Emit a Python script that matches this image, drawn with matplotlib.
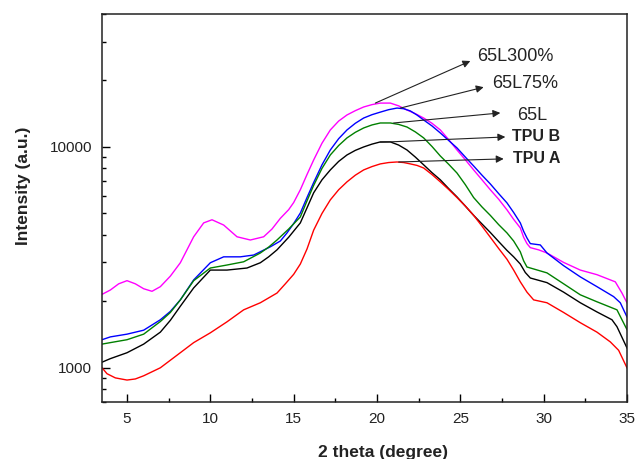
import matplotlib
matplotlib.use("Agg")
import matplotlib.pyplot as plt
from matplotlib.ticker import LogLocator, NullFormatter, FixedLocator, FixedFormatter, MultipleLocator

plt.rcParams['font.family'] = ['Liberation Sans', 'DejaVu Sans']

# ---- data ----
x_65L300 = [3.5, 4.0, 4.5, 5.0, 5.5, 6.0, 6.5, 7.0, 7.6, 8.2, 9.0, 9.6, 10.1, 10.8, 11.6, 12.4, 13.2,
            13.7, 14.2, 14.7, 15.0, 15.4, 15.8, 16.2, 16.7, 17.2, 17.7, 18.2, 18.7, 19.2, 19.7, 20.2,
            20.8, 21.3, 21.8, 22.3, 22.8, 23.3, 23.8, 24.3, 24.8, 25.3, 25.8, 26.3, 26.8, 27.3, 27.8,
            28.2, 28.6, 28.8, 29.0, 29.2, 29.7, 30.2, 31.2, 32.2, 33.2, 34.3, 34.7, 35.0]
y_65L300 = [2150, 2250, 2400, 2480, 2400, 2280, 2220, 2330, 2600, 2990, 3920, 4530, 4680, 4430, 3920, 3790, 3920,
            4250, 4750, 5200, 5600, 6400, 7500, 8730, 10400, 11940, 13100, 13960, 14600, 15170, 15550, 15800,
            15800, 15350, 14700, 14150, 13520, 12800, 11940, 10800, 9690, 8750, 7870, 7100, 6400, 5800, 5190,
            4700, 4300, 3900, 3650, 3500, 3420, 3310, 3000, 2770, 2640, 2450, 2180, 1970]

x_65L75 = [3.5, 4.0, 5.0, 6.0, 7.0, 7.6, 8.2, 9.0, 10.0, 10.8, 11.8, 12.6, 13.6, 14.2, 14.6, 15.0, 15.4,
           15.8, 16.2, 16.7, 17.2, 17.7, 18.2, 18.7, 19.2, 19.7, 20.2, 20.7, 21.2, 21.6, 22.0, 22.4,
           22.8, 23.3, 23.8, 24.3, 24.8, 25.3, 25.8, 26.3, 26.8, 27.3, 27.8, 28.2, 28.6, 28.8, 29.0,
           29.2, 29.8, 30.2, 31.2, 32.2, 33.2, 34.2, 34.6, 35.0]
y_65L75 = [1340, 1380, 1420, 1480, 1650, 1800, 2030, 2500, 2990, 3180, 3180, 3240, 3530, 3750, 4080, 4500, 5020,
           5900, 6900, 8300, 9690, 10900, 11940, 12800, 13520, 14000, 14380, 14750, 15000, 14900, 14560, 13950,
           13250, 12450, 11570, 10700, 9900, 9000, 8200, 7450, 6800, 6150, 5580, 5050, 4530, 4150, 3870,
           3650, 3600, 3310, 2900, 2580, 2330, 2100, 1970, 1700]

x_65L = [3.5, 4.0, 5.0, 6.0, 7.0, 7.6, 8.2, 9.0, 10.0, 11.0, 12.0, 13.0, 13.5, 14.0, 14.7, 15.4, 15.8,
         16.2, 16.7, 17.2, 17.7, 18.2, 18.7, 19.2, 19.7, 20.2, 20.8, 21.3, 21.8, 22.3, 22.8, 23.3,
         23.8, 24.3, 24.8, 25.3, 25.8, 26.3, 26.8, 27.3, 27.8, 28.2, 28.6, 28.8, 29.0, 30.2, 31.2,
         32.2, 33.2, 34.4, 34.7, 35.0]
y_65L = [1280, 1300, 1340, 1420, 1620, 1780, 2030, 2480, 2830, 2920, 3020, 3310, 3520, 3790, 4250, 4820, 5700,
         6700, 8000, 9200, 10150, 10990, 11650, 12190, 12580, 12840, 12840, 12650, 12310, 11700, 10990, 10050,
         9100, 8350, 7620, 6750, 5900, 5350, 4900, 4450, 4080, 3750, 3350, 3050, 2860, 2690, 2400,
         2140, 1990, 1830, 1650, 1490]

x_TPUB = [3.5, 4.0, 5.0, 6.0, 7.0, 7.6, 8.2, 9.0, 10.0, 11.0, 12.2, 13.0, 13.5, 14.0, 14.7, 15.4, 15.8,
          16.2, 16.7, 17.2, 17.7, 18.2, 18.7, 19.2, 19.7, 20.2, 20.8, 21.3, 21.8, 22.3, 22.8, 23.3,
          23.8, 24.3, 24.8, 25.3, 25.8, 26.3, 26.8, 27.3, 27.8, 28.2, 28.6, 28.9, 29.2, 30.2, 31.2,
          32.2, 33.2, 34.1, 34.4, 35.0]
y_TPUB = [1060, 1100, 1170, 1280, 1450, 1640, 1900, 2300, 2770, 2770, 2830, 2990, 3180, 3420, 3900, 4530, 5300,
          6200, 7100, 7870, 8600, 9200, 9650, 10000, 10300, 10540, 10540, 10200, 9690, 9000, 8300, 7650,
          7100, 6480, 5940, 5400, 4900, 4480, 4100, 3730, 3400, 3180, 2950, 2700, 2550, 2430, 2200,
          1970, 1790, 1650, 1535, 1230]

x_TPUA = [3.5, 3.8, 4.3, 5.0, 5.5, 6.0, 7.0, 8.0, 9.0, 10.0, 11.0, 12.0, 13.0, 14.0, 14.5, 15.0, 15.4,
          15.8, 16.2, 16.7, 17.2, 17.7, 18.2, 18.7, 19.2, 19.7, 20.2, 20.7, 21.2, 21.6, 22.0, 22.4,
          22.8, 23.3, 23.8, 24.3, 24.8, 25.3, 25.8, 26.3, 26.8, 27.3, 27.8, 28.2, 28.6, 29.0, 29.4,
          30.2, 31.2, 32.2, 33.2, 34.0, 34.5, 35.0]
y_TPUA = [1000, 940, 900, 880, 890, 920, 1000, 1140, 1300, 1440, 1615, 1830, 1970, 2180, 2400, 2650, 2950,
          3450, 4200, 5000, 5760, 6400, 6950, 7450, 7870, 8150, 8380, 8500, 8550, 8500, 8380, 8250,
          8030, 7500, 6950, 6420, 5900, 5400, 4900, 4380, 3900, 3470, 3100, 2770, 2450, 2200, 2030,
          1970, 1780, 1600, 1450, 1310, 1200, 1000]

series = [
    ("65L300%", x_65L300, y_65L300, "#ff00ff"),
    ("65L75%", x_65L75, y_65L75, "#0000ff"),
    ("65L", x_65L, y_65L, "#008000"),
    ("TPU B", x_TPUB, y_TPUB, "#000000"),
    ("TPU A", x_TPUA, y_TPUA, "#ff0000"),
]

x_ticks = [5, 10, 15, 20, 25, 30, 35]
y_ticks = [1000, 10000]
y_ticklabels = ["1000", "10000"]

# annotation layout: (label, arrow start, arrow head, text pos, bold)
annotations = [
    ("65L300%", (19.9, 15800), (25.6, 24500), (26.0, 25800), False),
    ("65L75%", (21.4, 15000), (26.4, 18650), (26.9, 19300), False),
    ("65L", (21.0, 12840), (27.4, 14260), (28.4, 13900), False),
    ("TPU B", (20.2, 10500), (27.7, 11100), (28.1, 11100), True),
    ("TPU A", (21.3, 8550), (27.6, 8830), (28.15, 8830), True),
]

fig = plt.figure(figsize=(6.36, 4.59), dpi=100)
ax = fig.add_axes([0.1604, 0.1242, 0.8254, 0.8453])

for name, xs, ys, c in series:
    ax.plot(xs, ys, color=c, lw=1.0)

ax.set_yscale("log")
ax.set_xlim(3.5, 35)
ax.set_ylim(700, 40000)

ax.xaxis.set_major_locator(FixedLocator(x_ticks))
ax.xaxis.set_minor_locator(MultipleLocator(2.5))
ax.yaxis.set_major_locator(FixedLocator(y_ticks))
ax.yaxis.set_major_formatter(FixedFormatter(y_ticklabels))
ax.yaxis.set_minor_locator(LogLocator(base=10, subs=[2, 3, 4, 5, 6, 7, 8, 9]))
ax.yaxis.set_minor_formatter(NullFormatter())

ax.tick_params(which="major", direction="in", length=5.5, width=1.0, labelsize=11,
               labelcolor="#222222", pad=7)
ax.tick_params(which="minor", direction="in", length=3, width=1.0)
ax.tick_params(axis="x", which="both", top=False)
ax.tick_params(axis="y", which="both", right=False)
for s in ax.spines.values():
    s.set_linewidth(1.1)
    s.set_color("#222222")

ax.set_xlabel("2 theta (degree)", fontsize=12.5, fontweight="bold", color="#222222")
ax.xaxis.set_label_coords(0.535, -0.11)
ax.set_ylabel("Intensity (a.u.)", fontsize=12.5, fontweight="bold", color="#222222")
ax.yaxis.set_label_coords(-0.135, 0.557)

for label, start, head, tpos, bold in annotations:
    ax.annotate("", xy=head, xytext=start,
                arrowprops=dict(arrowstyle="-|>", color="#222222", lw=0.8,
                                mutation_scale=11, shrinkA=0, shrinkB=0))
    ax.text(tpos[0], tpos[1], label, fontsize=11.5 if bold else 13,
            fontweight="bold" if bold else "normal", color="#222222",
            ha="left", va="center")

fig.savefig("out.png", dpi=100)
